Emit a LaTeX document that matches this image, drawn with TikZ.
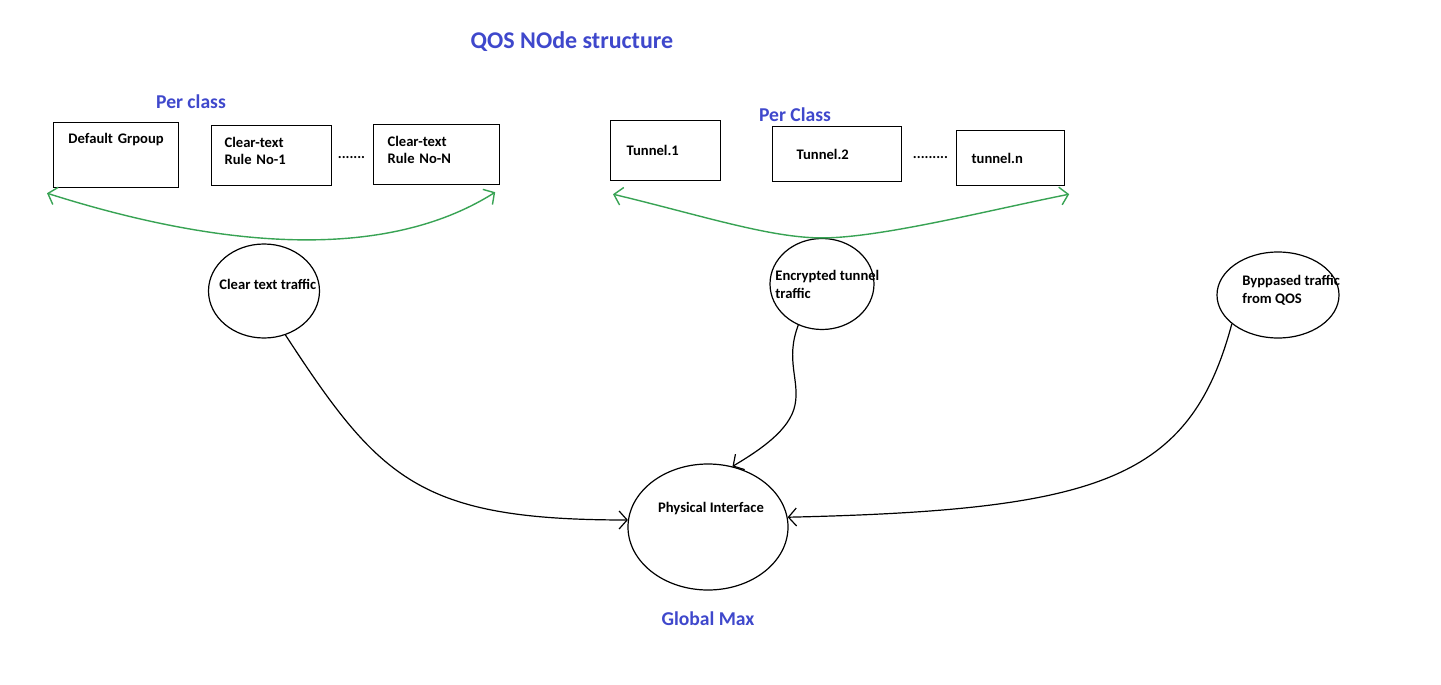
\documentclass[tikz,border=0pt]{standalone}
\usepackage{fontspec}
\setmainfont{Carlito}
\usetikzlibrary{arrows.meta,positioning,shapes.geometric,calc}
\definecolor{qosblue}{RGB}{63,72,204}
\definecolor{qosgreen}{RGB}{56,163,84}

\begin{document}
\begin{tikzpicture}[x=0.5pt,y=-0.5pt,
  grp/.style={draw, rectangle, anchor=north west, line width=0.6pt, inner ysep=2pt,
    font=\fontsize{7.3}{8.5}\selectfont\bfseries, align=left},
  blob/.style={draw, ellipse, line width=0.6pt, inner sep=0pt},
  lbl/.style={font=\fontsize{7.3}{9}\selectfont\bfseries, align=left, inner sep=0pt},
  ttl/.style={font=\fontsize{9.8}{12}\selectfont\bfseries, text=qosblue},
  garr/.style={qosgreen, line width=0.7pt,
    {Straight Barb[length=4pt,width=9pt]}-{Straight Barb[length=4pt,width=9pt]}},
  barr/.style={line width=0.6pt, -{Straight Barb[length=4pt,width=9pt]}}]
\fill[white] (0,0) rectangle (1441,685);
\useasboundingbox (0,0) rectangle (1441,685);

% titles
\node[ttl, font=\fontsize{12}{14}\selectfont\bfseries] (title) at (572,42) {QOS NOde structure};
\node[ttl] (perA) at (191,102) {Per class};
\node[ttl] (perB) at (795,115) {Per Class};
\node[ttl] (gmax) at (708,619) {Global Max};

% clear-text classes
\node[grp, align=center, text width=50.5pt, inner xsep=6pt, minimum height=32.5pt,
  text height=5pt, text depth=17pt] (dflt) at (53,122) {Default Grpoup};
\node[grp, text width=47pt, inner xsep=6.5pt, minimum height=30pt,
  text height=5pt, text depth=13pt] (rule1) at (211,125) {Clear-text\\Rule No-1};
\node[grp, text width=49pt, inner xsep=7pt, minimum height=30pt,
  text height=5pt, text depth=13pt] (ruleN) at (373,124) {Clear-text\\Rule No-N};
\node[lbl] (dotsA) at (351.5,158) {.......};

% tunnel classes
\node[grp, text width=39pt, inner xsep=8pt, minimum height=30pt] (tun1) at (610,120) {Tunnel.1};
\node[grp, text width=40.5pt, inner xsep=12pt, minimum height=27.5pt] (tun2) at (772,126) {Tunnel.2};
\node[grp, text width=39pt, inner xsep=7.5pt, minimum height=27.5pt] (tunN) at (956,130) {tunnel.n};
\node[lbl] (dotsB) at (930.5,158) {.........};

% traffic kinds
\node[blob, minimum width=55.5pt, minimum height=47pt] (clear) at (264,291) {};
\node[lbl, anchor=west] (cleartxt) at (219,284) {Clear text traffic};
\node[blob, minimum width=52pt, minimum height=45.5pt] (enc) at (822,284) {};
\node[lbl, anchor=west] (enctxt) at (775,284) {Encrypted tunnel\\traffic};
\node[blob, minimum width=61pt, minimum height=43pt] (byp) at (1278,295) {};
\node[lbl, anchor=west] (byptxt) at (1242,290) {Byppased traffic\\from QOS};

% physical interface
\node[blob, minimum width=80pt, minimum height=63pt] (phys) at (708,527) {};
\node[lbl] (phystxt) at (711,509) {Physical Interface};

% green spans
\draw[garr] ([shift={(-6,5)}]dflt.south west) .. controls (210,245) and (380,265)
  .. ([shift={(-5,7)}]ruleN.south east);
\draw[garr] ([shift={(3,13)}]tun1.south west) .. controls (700,215) and (770,238)
  .. (enc.north) .. controls (880,238) and (990,210) .. ([shift={(4,8)}]tunN.south east);

% into the interface
\draw[barr] (clear.-64) .. controls (380,480) and (420,520) .. (phys.175);
\draw[barr] (enc.-120) .. controls (785,360) and (800,380) .. (795,405)
  .. controls (790,430) and (760,450) .. (phys.68);
\draw[barr] (byp.-148) .. controls (1190,480) and (1100,510) .. (phys.7);
\end{tikzpicture}
\end{document}
